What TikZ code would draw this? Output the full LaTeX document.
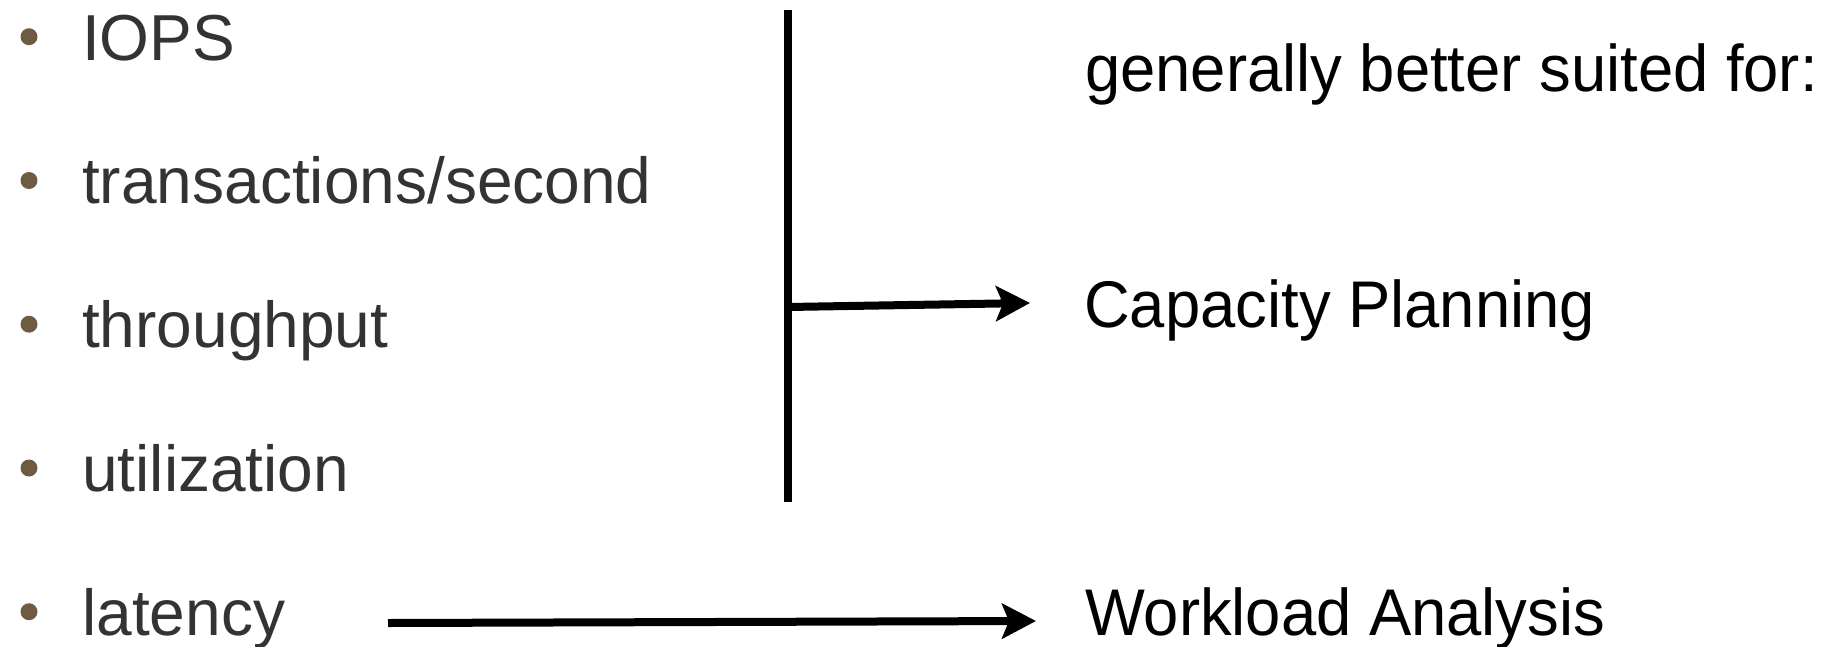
\documentclass[tikz,border=0pt]{standalone}
\usepackage{fontspec}
\setmainfont{Liberation Sans}
\newfontfamily\leftfont[FakeStretch=0.985]{Liberation Sans}
\newfontfamily\rightfont[FakeStretch=0.96]{Liberation Sans}
\usetikzlibrary{arrows.meta}
\definecolor{itemgray}{HTML}{333333}
\definecolor{bulletbrown}{HTML}{6E5C42}
\begin{document}
\begin{tikzpicture}[x=1pt,y=-1pt,
  item/.style={anchor=base west, inner sep=0pt, text=itemgray, font=\leftfont\fontsize{65}{65}\selectfont},
  usage/.style={anchor=base west, inner sep=0pt, text=black, font=\rightfont\fontsize{66}{66}\selectfont},
  dot/.style={circle, fill=bulletbrown, inner sep=0pt, minimum size=17pt},
  bar/.style={line width=8pt, black},
  link/.style={line width=8pt, black, -{Stealth[length=34pt, width=35pt, inset=7pt]}}]
\useasboundingbox (0,0) rectangle (1834,646);
% bullets
\node[dot] (b1) at (29,36.7) {};
\node[dot] (b2) at (29,180.5) {};
\node[dot] (b3) at (29,324.2) {};
\node[dot] (b4) at (29,468) {};
\node[dot] (b5) at (29,611.7) {};
% left items
\node[item] (iops) at (82,60) {IOPS};
\node[item] (tps) at (82,203.8) {transactions/second};
\node[item] (thr) at (82,347.5) {throughput};
\node[item] (util) at (82,491.3) {utilization};
\node[item] (lat) at (82,635) {latency};
% right texts
\node[usage] (head) at (1085,91.7) {generally better suited for:};
\node[usage] (cap) at (1084,327.5) {Capacity Planning};
\node[usage] (wl) at (1085,635) {Workload Analysis};
% connectors
\coordinate (vt) at (787.5,10);
\coordinate (vb) at (787.5,502);
\coordinate (vj) at (787.5,307);
\coordinate (capin) at (1030,303);
\coordinate (latout) at (388,623);
\coordinate (wlin) at (1036,621);
\draw[bar] (vt) -- (vb);
\draw[link] (vj) -- (capin);
\draw[link] (latout) -- (wlin);
\end{tikzpicture}
\end{document}
